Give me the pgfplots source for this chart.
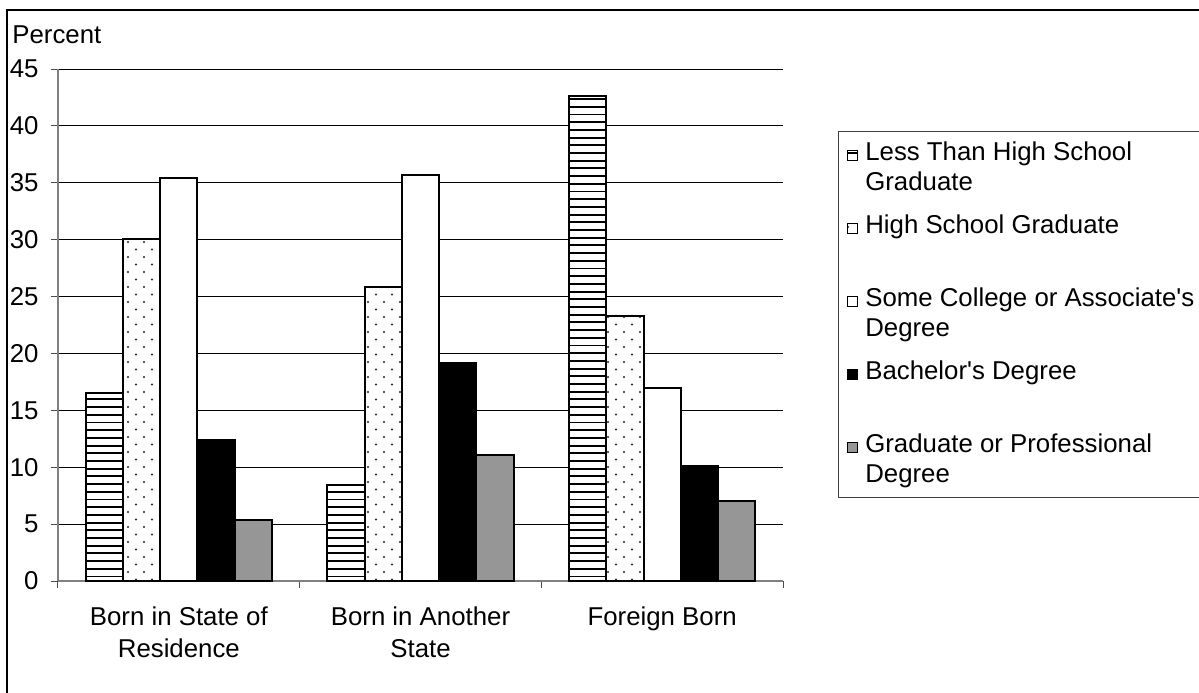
\documentclass[border=0pt]{standalone}
\usepackage{fontspec}
\setmainfont{Liberation Sans}
\usepackage{pgfplots}
\pgfplotsset{compat=1.18}
\usepackage{pgfplotstable}
\usetikzlibrary{patterns}

\pgfdeclarepatternformonly{hl}{\pgfpoint{-0.1pt}{-0.6pt}}{\pgfpoint{10.1pt}{0.6pt}}{\pgfpoint{10pt}{3.85pt}}{%
  \pgfsetlinewidth{0.95pt}\pgfpathmoveto{\pgfpoint{-0.1pt}{0pt}}\pgfpathlineto{\pgfpoint{10.1pt}{0pt}}\pgfusepath{stroke}}
\pgfdeclarepatternformonly{dt}{\pgfpoint{-0.8pt}{-0.8pt}}{\pgfpoint{4.8pt}{4.55pt}}{\pgfpoint{8pt}{7.5pt}}{%
  \pgfpathcircle{\pgfpoint{0pt}{0pt}}{0.6pt}\pgfpathcircle{\pgfpoint{4pt}{3.75pt}}{0.6pt}\pgfusepath{fill}}

\pgfplotsset{sq legend/.style={legend image code/.code={%
  \draw[##1, line width=0.5pt] (0pt,0pt) rectangle (5pt,5pt);
  \pgfpathmoveto{\pgfpoint{0pt}{9.3pt}}\pgfpathlineto{\pgfpoint{0pt}{-#1}}\pgfusepath{}}}}

\pgfplotstableread{
x a b c d e
0 16.5 30.1 35.4 12.4 5.4
1 8.4 25.8 35.7 19.2 11.1
2 42.6 23.3 17.0 10.1 7.0
}\data

\begin{document}
\fontsize{12.9}{15}\selectfont
\begin{tikzpicture}
\useasboundingbox (0,0) rectangle (599.5pt,-346pt);
\clip (0,0) rectangle (599.5pt,-346pt);
\draw[line width=1.3pt] (3.5pt,-5pt) rectangle (640pt,-380pt);
\node[anchor=base west, inner sep=0pt] at (6pt,-21.5pt) {Percent};
\begin{axis}[
  at={(29pt,-290.5pt)}, anchor=south west,
  scale only axis, width=362.5pt, height=256pt,
  ybar, bar width=0.154,
  xmin=-0.5, xmax=2.5, ymin=0, ymax=45,
  xtick={0,1,2},
  xticklabels={{Born in State of\\Residence},{Born in Another\\State},{Foreign Born}},
  minor xtick={-0.5,0.5,1.5,2.5},
  ytick={0,5,...,45},
  axis x line*=bottom, axis y line*=left,
  axis line style={black!50, line width=0.6pt},
  ymajorgrids, major grid style={black, line width=0.5pt},
  tick align=outside, major tick length=3.5pt, minor tick length=3.5pt,
  major x tick style={draw=none},
  minor x tick style={black!70, line width=0.5pt},
  ytick style={black!70, line width=0.5pt},
  /pgf/number format/assume math mode=true,
  tick label style={font=\fontsize{12.9}{16}\selectfont},
  yticklabel style={anchor=east, inner sep=0pt, xshift=-6pt},
  xticklabel style={anchor=north, inner sep=0pt, align=center, yshift=-9pt},
  legend cell align=left,
  legend style={at={(axis description cs:1.0759,0.878)}, anchor=north west,
    draw=black!75, line width=0.5pt, inner xsep=4.3pt, inner ysep=4.7pt,
    column sep=3.6pt, row sep=0pt,
    cells={anchor=base west}, nodes={inner sep=0pt}},
]
\addplot[bar shift=-0.308, draw=black, line width=1pt, fill=white, postaction={pattern=hl, pattern color=black}, sq legend=27.2pt] table[x=x,y=a]{\data};
\addplot[bar shift=-0.154, draw=black, line width=1pt, fill=white, postaction={pattern=dt, pattern color=black!85}, sq legend=27.2pt] table[x=x,y=b]{\data};
\addplot[bar shift=0, draw=black, line width=1pt, fill=white, sq legend=27.2pt] table[x=x,y=c]{\data};
\addplot[bar shift=0.154, draw=black, line width=1pt, fill=black, sq legend=27.2pt] table[x=x,y=d]{\data};
\addplot[bar shift=0.308, draw=black, line width=1pt, fill=black!41, sq legend=18pt] table[x=x,y=e]{\data};
\addlegendentry{\parbox[t]{185pt}{\raggedright Less Than High School\\Graduate}}
\addlegendentry{\parbox[t]{185pt}{\raggedright High School Graduate}}
\addlegendentry{\parbox[t]{185pt}{\raggedright Some College or Associate\textquotesingle s\\Degree}}
\addlegendentry{\parbox[t]{185pt}{\raggedright Bachelor\textquotesingle s Degree}}
\addlegendentry{\parbox[t]{185pt}{\raggedright Graduate or Professional\\Degree}}
\end{axis}
\end{tikzpicture}
\end{document}
